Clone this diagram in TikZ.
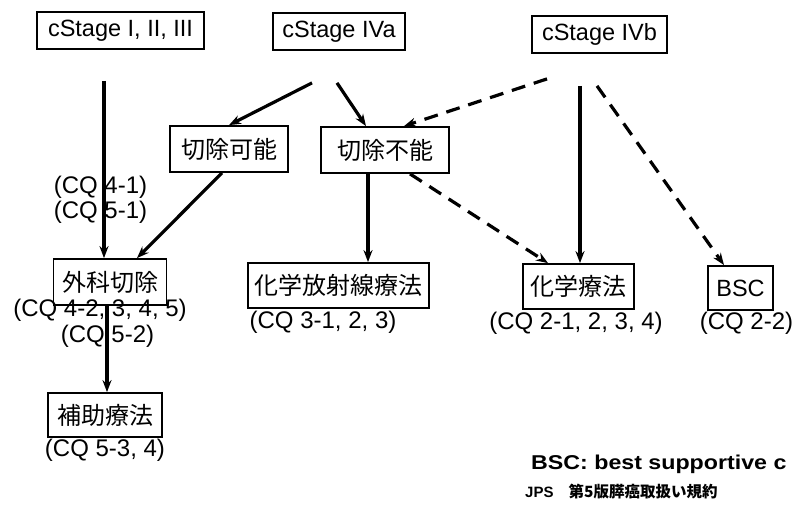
\documentclass[tikz,border=0pt]{standalone}
\usepackage{fontspec}
\setmainfont{Liberation Sans}
\newfontfamily\jp{Noto Sans CJK JP}
\newfontfamily\widesans[FakeStretch=1.16]{Liberation Sans}
\usetikzlibrary{arrows.meta,positioning}
\tikzset{
  box/.style={draw, line width=1.8pt, inner sep=0pt, align=center},
  stagebox/.style={box, font=\fontsize{23.5}{26}\selectfont},
  jpbox/.style={box, font=\jp\fontsize{24}{26}\selectfont},
  cq/.style={inner sep=0pt, font=\fontsize{24}{26}\selectfont},
  arr/.style={line width=3.2pt, -{Stealth[length=12pt,width=9pt]}},
  darr/.style={arr, dash pattern=on 14pt off 9pt},
}
\begin{document}
\begin{tikzpicture}[x=1pt,y=-1pt]
\useasboundingbox (0,0) rectangle (794,512);
% stage boxes
\node[stagebox, minimum width=167pt, minimum height=37pt] (s1) at (120.5,30.5) {cStage I, II, III};
\node[stagebox, minimum width=132pt, minimum height=37pt] (s2) at (339,31.5) {cStage IVa};
\node[stagebox, minimum width=135pt, minimum height=37pt] (s3) at (599.5,34.5) {cStage IVb};
% second level
\node[jpbox, minimum width=118pt, minimum height=46pt] (kano) at (229,149) {切除可能};
\node[jpbox, minimum width=128pt, minimum height=46pt] (funo) at (385,150) {切除不能};
% treatments
\node[jpbox, minimum width=113pt, minimum height=46pt] (geka) at (110,282) {外科切除};
\node[jpbox, minimum width=181pt, minimum height=45pt] (kahou) at (338.5,285.5) {化学放射線療法};
\node[jpbox, minimum width=111pt, minimum height=45pt] (kagaku) at (578.5,286.5) {化学療法};
\node[stagebox, minimum width=65pt, minimum height=44pt] (bsc) at (740.5,288) {BSC};
\node[jpbox, minimum width=114pt, minimum height=44pt] (hojo) at (105,415) {補助療法};
% CQ labels
\node[cq] (cq41) at (100.5,187) {(CQ 4-1)};
\node[cq] (cq51) at (100.5,212.5) {(CQ 5-1)};
\node[cq] (cq42) at (100,310) {(CQ 4-2, 3, 4, 5)};
\node[cq] (cq52) at (107.5,336) {(CQ 5-2)};
\node[cq] (cq31) at (323,322) {(CQ 3-1, 2, 3)};
\node[cq] (cq21) at (576,323) {(CQ 2-1, 2, 3, 4)};
\node[cq] (cq22) at (746.5,323) {(CQ 2-2)};
\node[cq] (cq53) at (105,450) {(CQ 5-3, 4)};
% footer
\node[anchor=base west, inner sep=0pt, font=\widesans\bfseries\fontsize{20}{22}\selectfont] (bscdef) at (531,469) {BSC: best supportive c};
\node[anchor=base west, inner sep=0pt, font=\bfseries\fontsize{15}{17}\selectfont] (jps) at (525,497) {JPS\hspace{1em}{\jp\fontsize{15.5}{17}\selectfont 第5版膵癌取扱い規約}};
% arrows
\draw[arr] ([shift={(-16.5pt,-31pt)}]s1.south) -- ([xshift=-6pt]geka.north);
\draw[arr] ([shift={(-27pt,-32pt)}]s2.south) -- (kano.north);
\draw[arr] ([shift={(-2pt,-32pt)}]s2.south) -- ([xshift=-19pt]funo.north);
\draw[darr] ([shift={(-52.5pt,-25pt)}]s3.south) -- ([xshift=19pt]funo.north);
\draw[arr] ([shift={(-19.5pt,-32pt)}]s3.south) -- ([xshift=1.5pt]kagaku.north);
\draw[darr] ([shift={(-2.5pt,-32pt)}]s3.south) -- ([xshift=-16.5pt]bsc.north);
\draw[arr] ([xshift=-7pt]kano.south) -- ([xshift=27pt]geka.north);
\draw[arr] ([xshift=-17pt]funo.south) -- ([xshift=29.5pt]kahou.north);
\draw[darr] ([xshift=25pt]funo.south) -- ([xshift=-30.5pt]kagaku.north);
\draw[arr] ([xshift=-3pt]geka.south) -- ([xshift=2pt]hojo.north);
\end{tikzpicture}
\end{document}
